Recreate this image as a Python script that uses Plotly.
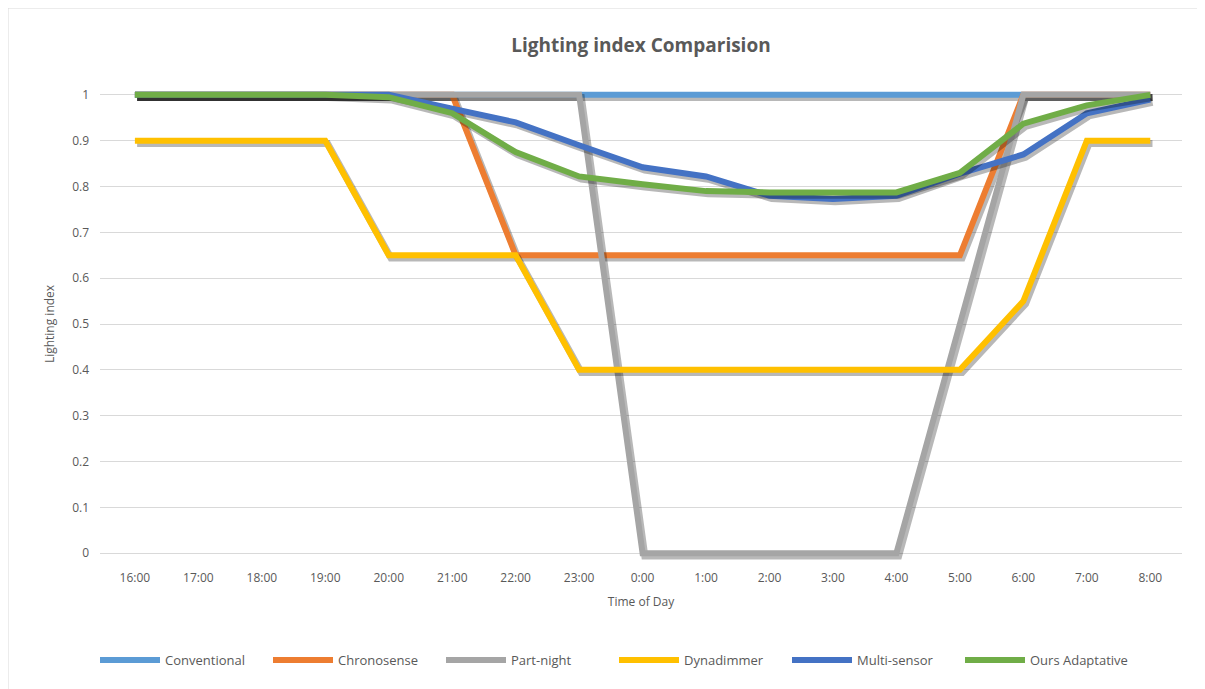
import plotly.graph_objects as go

hours = ["16:00", "17:00", "18:00", "19:00", "20:00", "21:00", "22:00", "23:00", "0:00",
         "1:00", "2:00", "3:00", "4:00", "5:00", "6:00", "7:00", "8:00"]

conventional = [1, 1, 1, 1, 1, 1, 1, 1, 1, 1, 1, 1, 1, 1, 1, 1, 1]
chronosense = [1, 1, 1, 1, 1, 1, 0.65, 0.65, 0.65, 0.65, 0.65, 0.65, 0.65, 0.65, 1, 1, 1]
part_night = [1, 1, 1, 1, 1, 1, 1, 1, 0, 0, 0, 0, 0, 0.5, 1, 1, 1]
dynadimmer = [0.9, 0.9, 0.9, 0.9, 0.65, 0.65, 0.65, 0.4, 0.4, 0.4, 0.4, 0.4, 0.4, 0.4, 0.55, 0.9, 0.9]
multi_sensor = [1, 1, 1, 1, 1, 0.97, 0.94, 0.89, 0.842, 0.822, 0.78, 0.773, 0.78, 0.828, 0.87, 0.96, 0.99]
ours_adaptative = [1, 1, 1, 1, 0.995, 0.96, 0.875, 0.822, 0.805, 0.79, 0.787, 0.787, 0.787, 0.83, 0.937, 0.977, 1]

series = [
    ("Conventional", conventional, "#5B9BD5"),
    ("Chronosense", chronosense, "#ED7D31"),
    ("Part-night", part_night, "#A5A5A5"),
    ("Dynadimmer", dynadimmer, "#FFC000"),
    ("Multi-sensor", multi_sensor, "#4472C4"),
    ("Ours Adaptative", ours_adaptative, "#70AD47"),
]

x = list(range(len(hours)))
fig = go.Figure()

for name, values, color in series:
    # soft drop shadow like the Excel line effect
    fig.add_trace(go.Scatter(
        x=[v + 0.035 for v in x], y=[v - 0.006 for v in values],
        mode="lines", line=dict(color="rgba(0,0,0,0.28)", width=7),
        showlegend=False, hoverinfo="skip",
    ))
    fig.add_trace(go.Scatter(
        x=x, y=values, name=name, mode="lines",
        line=dict(color=color, width=6),
    ))

# the page body adds an 8px margin, so the figure starts at (8, 8)
OFF = 8
W, H = 1205 - OFF, 689 - OFF
L, R, T, B = 100 - OFF, 23, 88 - OFF, 129
pw, ph = W - L - R, H - T - B


def px_x(p):
    return (p - OFF - L) / pw


def px_y(p):
    return (H - B - (p - OFF)) / ph


fig.add_shape(type="rect", xref="paper", yref="paper",
              x0=px_x(OFF), x1=px_x(1202), y0=px_y(700), y1=px_y(8),
              line=dict(color="#D9D9D9", width=1), layer="below")

font = "Open Sans, DejaVu Sans, sans-serif"
fig.update_layout(
    width=W, height=H,
    margin=dict(l=L, r=R, t=T, b=B, autoexpand=False),
    plot_bgcolor="white", paper_bgcolor="white",
    font=dict(family=font, size=12, color="#595959"),
    title=dict(text="<b>Lighting index Comparision</b>", x=0.5, xanchor="center",
               xref="paper", y=1 - (45 - OFF) / H, yanchor="middle",
               font=dict(size=19, color="#595959")),
    legend=dict(orientation="h", x=px_x(614), xanchor="center", y=px_y(660), yanchor="middle",
                font=dict(size=13, color="#595959"), itemwidth=60, traceorder="normal",
                entrywidth=98),
    showlegend=True,
)
fig.update_xaxes(
    tickmode="array", tickvals=x, ticktext=hours, range=[-0.55, 16.5],
    showgrid=False, zeroline=False, showline=False, ticklabelstandoff=9,
    title=dict(text="Time of Day", font=dict(size=12, color="#595959"), standoff=12),
    tickfont=dict(size=12, color="#595959"),
)
fig.update_yaxes(
    range=[-0.015, 1.015], tickvals=[i / 10 for i in range(11)],
    ticktext=["0", "0.1", "0.2", "0.3", "0.4", "0.5", "0.6", "0.7", "0.8", "0.9", "1"],
    showgrid=True, gridcolor="#D9D9D9", zeroline=False, showline=False,
    ticks="", ticklabelstandoff=10,
    title=dict(text="Lighting index", font=dict(size=12, color="#595959"), standoff=14),
    tickfont=dict(size=12, color="#595959"),
)

fig.write_html("out.html")
